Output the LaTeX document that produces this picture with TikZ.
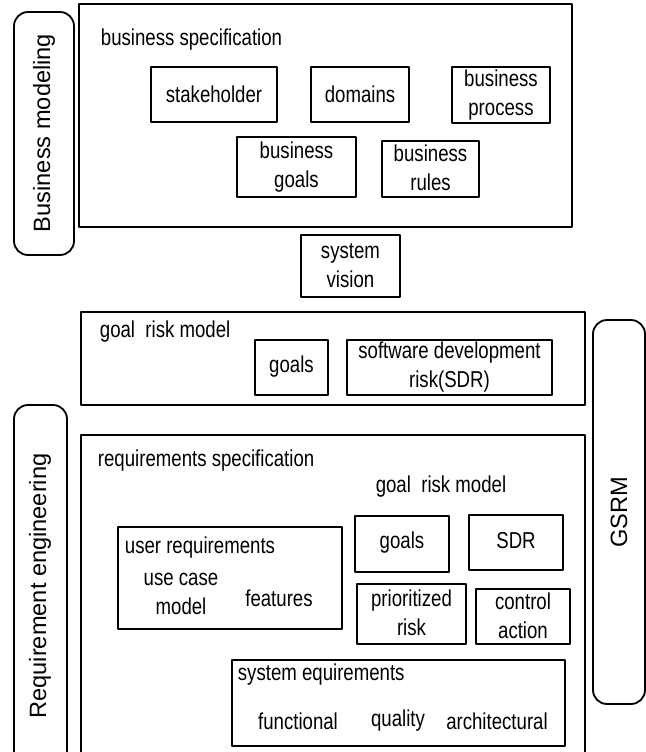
\documentclass[tikz,border=0pt]{standalone}
\usepackage{fontspec}
\setmainfont{Liberation Sans}
\newfontfamily\narrowfont[FakeStretch=0.81]{Liberation Sans}
\begin{document}
\begin{tikzpicture}[x=0.5pt, y=-0.5pt, line width=0.9pt, line join=round,
    font=\narrowfont\fontsize{11.5}{14.5}\selectfont,
    txt/.style={inner sep=0pt, align=center},
    lbl/.style={inner sep=0pt, anchor=west},
    side/.style={inner sep=0pt, rotate=90, font=\normalfont\fontsize{11.8}{14}\selectfont}]
    \useasboundingbox (0,0) rectangle (646,752);
    \clip (0,0) rectangle (646,752);
    % business modeling
    \draw[rounded corners=7pt] (14,12) rectangle (74,255);
    \node[side] (bmodel) at (44,133) {Business modeling};
    \draw (79,4) rectangle (572,227);
    \node[lbl] (bspec) at (100,40) {business specification};
    \draw (151,67) rectangle (277,122); \node[txt] (stake) at (214,94) {stakeholder};
    \draw (311,67) rectangle (409,122); \node[txt] (domains) at (360,94) {domains};
    \draw (452,67) rectangle (550,123); \node[txt] (bproc) at (501,95) {business\\process};
    \draw (237,137) rectangle (356,197); \node[txt] (bgoals) at (296.5,167) {business\\goals};
    \draw (382,141) rectangle (479,197); \node[txt] (brules) at (430.5,168) {business\\rules};
    \draw (301,235) rectangle (400,297); \node[txt] (vision) at (350.5,266) {system\\vision};
    % goal risk model
    \draw (81,312) rectangle (585,405);
    \node[lbl] (grm) at (99,332) {goal\ \ risk model};
    \draw (255,340) rectangle (328,395); \node[txt] (goals) at (291.5,367) {goals};
    \draw (347,340) rectangle (552,395); \node[txt] (sdr) at (449.5,367) {software development\\risk(SDR)};
    \draw[rounded corners=7pt] (593,320) rectangle (645,704);
    \node[side] (gsrm) at (619,512) {GSRM};
    % requirement engineering
    \draw[rounded corners=7pt] (14,405) rectangle (67,770);
    \node[side] (reng) at (40,586) {Requirement engineering};
    \draw (81,435) rectangle (585,770);
    \node[lbl] (rspec) at (97,461) {requirements specification};
    \node[txt] (grmin) at (441,487) {goal\ \ risk model};
    \draw (355,516) rectangle (449,572); \node[txt] (goalsin) at (402,543) {goals};
    \draw (469,515) rectangle (563,570); \node[txt] (sdrin) at (516,541) {SDR};
    \draw (357,584) rectangle (466,644); \node[txt] (prisk) at (411.5,613) {prioritized\\risk};
    \draw (476,589) rectangle (570,644); \node[txt] (control) at (523,616) {control\\action};
    \draw (118,527) rectangle (342,629);
    \node[lbl] (ureq) at (124,548) {user requirements};
    \node[txt] (ucase) at (181,594) {use case\\model};
    \node[txt] (feat) at (279,598) {features};
    \draw (232,660) rectangle (565,746);
    \node[lbl] (sreq) at (237,675) {system equirements};
    \node[txt] (func) at (298,721) {functional};
    \node[txt] (qual) at (398,721) {quality};
    \node[txt] (arch) at (497,721) {architectural};
\end{tikzpicture}
\end{document}
